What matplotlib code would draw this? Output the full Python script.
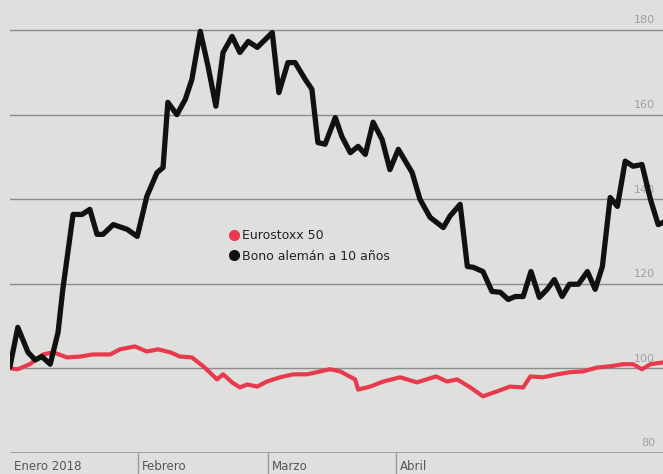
import matplotlib.pyplot as plt
from matplotlib.lines import Line2D
import matplotlib.transforms as mtransforms

# Posicion en dias habiles desde el 1 de enero de 2018
bono_dias = [0, 1.3, 3, 4.2, 5.3, 6.7, 8, 8.8, 10.5, 12, 13.3, 14.5, 15.5, 17.2,
             19.5, 21.2, 22.8, 24.5, 25.5, 26.3, 27.8, 29.2, 30.3, 31.7, 33, 34.3,
             35.5, 37, 38.3, 39.7, 41.2, 43.7, 44.8, 46.3, 47.5, 49.2, 50.3, 51.3,
             52.5, 54.2, 55.3, 56.7, 58, 59.2, 60.5, 62, 63.3, 64.7, 67, 68.3, 70,
             72.2, 73.3, 75, 76.2, 77.2, 78.8, 80.3, 81.7, 83, 84.2, 85.5, 86.8,
             88.2, 89.5, 90.7, 92, 93.2, 94.7, 96.2, 97.5, 98.7, 100, 101.2, 102.5,
             103.8, 105.3, 106.7, 108, 108.8]
bono = [100.5, 109.7, 103.8, 102, 102.8, 101, 108.5, 118.7, 136.4, 136.4, 137.6,
        131.7, 131.7, 134, 132.9, 131.2, 140.7, 146.3, 147.5, 162.9, 160, 163.6,
        168.3, 179.7, 171.4, 162, 174.7, 178.5, 174.7, 177.3, 175.9, 179.4, 165.2,
        172.3, 172.3, 168.3, 166, 153.4, 153, 159.3, 154.8, 151, 152.5, 150.6,
        158.2, 154.1, 147, 151.8, 146.3, 140, 135.7, 133.3, 136, 138.8, 124.1,
        123.9, 122.9, 118.2, 118, 116.3, 117, 117, 122.9, 116.8, 118.7, 121, 117,
        119.9, 119.9, 122.9, 118.7, 124.1, 140.4, 138.3, 149, 147.8, 148.2, 140,
        134, 134.5]

euro_dias = [0, 1.3, 3.3, 5.5, 7.2, 9.5, 11.7, 13.8, 16.7, 18.3, 20.8, 22.8, 24.7,
             26.7, 28.3, 30.3, 32.2, 34.5, 35.5, 37, 38.3, 39.5, 41.2, 42.8, 45,
             47.2, 49.5, 51.7, 53.3, 55, 57.5, 58, 60, 62.2, 65, 67.8, 71, 72.8,
             74.5, 76.7, 78.8, 81.2, 83.3, 85.5, 86.7, 88.8, 91.2, 93.3, 95.5, 97.8,
             100, 102.2, 103.8, 105.3, 106.7, 108.8]
euro = [100, 99.8, 101, 103.3, 103.8, 102.6, 102.8, 103.3, 103.3, 104.5, 105.2,
        104, 104.5, 103.8, 102.8, 102.6, 100.5, 97.4, 98.6, 96.7, 95.5, 96.2, 95.7,
        96.9, 97.9, 98.6, 98.6, 99.3, 99.8, 99.3, 97.4, 95, 95.7, 96.9, 97.9, 96.7,
        98.1, 96.9, 97.4, 95.5, 93.4, 94.6, 95.7, 95.5, 98.1, 97.9, 98.6, 99.1,
        99.3, 100.2, 100.5, 101, 101, 99.8, 101, 101.4]

meses = ["Enero 2018", "Febrero", "Marzo", "Abril"]
meses_pos = [0, 21.3, 43, 64.3]
y_ticks = [80, 100, 120, 140, 160, 180]

FONDO = "#dfe0dd"
ROJO = "#e8394d"
NEGRO = "#111111"

fig = plt.figure(figsize=(6.63, 4.74), dpi=100, facecolor=FONDO)
ax = fig.add_axes([0.0151, 0.0443, 0.9849, 0.9557])
ax.set_facecolor(FONDO)

for v in y_ticks[1:]:
    ax.axhline(v, color="#8c8c8c", lw=1.0, zorder=1)
ax.axhline(80, color="#9a9a9a", lw=2.0, zorder=1)

ax.plot(euro_dias, euro, color=ROJO, lw=3.0, solid_joinstyle="round", zorder=3)
ax.plot(bono_dias, bono, color=NEGRO, lw=3.8, solid_joinstyle="round", zorder=4)

ax.set_xlim(0, 108.8)
ax.set_ylim(80, 187.1)
ax.set_xticks([])
ax.set_yticks([])
for s in ax.spines.values():
    s.set_visible(False)

# etiquetas del eje derecho, sobre cada linea
trans = mtransforms.blended_transform_factory(ax.transAxes, ax.transData)
for v in y_ticks:
    ax.text(0.988, v + 1.1, str(v), transform=trans, ha="right", va="bottom",
            fontsize=8, color="#a0a0a0")

# separadores y nombres de los meses debajo del eje
for p, m in zip(meses_pos, meses):
    if p > 0:
        ax.plot([p, p], [80, 74], color="#9a9a9a", lw=1.0, clip_on=False)
    ax.text(p + 0.6, 76.9, m, ha="left", va="center", fontsize=8.5,
            color="#555555", clip_on=False)

handles = [Line2D([], [], ls="none", marker="o", ms=7, color=ROJO),
           Line2D([], [], ls="none", marker="o", ms=7, color=NEGRO)]
ax.legend(handles, ["Eurostoxx 50", "Bono alemán a 10 años"],
          loc="upper left", bbox_to_anchor=(0.33, 0.505), frameon=False,
          handlelength=0.6, handletextpad=0.3, labelspacing=0.6, fontsize=9,
          borderaxespad=0, labelcolor="#222222")

fig.savefig("out.png", dpi=100, facecolor=FONDO)
